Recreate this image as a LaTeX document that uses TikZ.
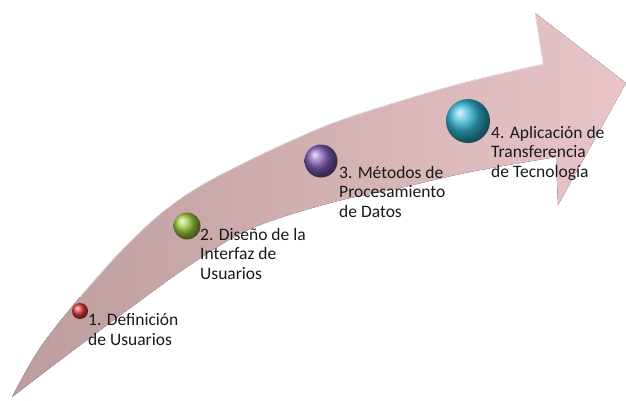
\documentclass[tikz,border=0pt]{standalone}
\usepackage{fontspec}
\setmainfont{Carlito}
\definecolor{tailc}{RGB}{188,156,156}
\definecolor{headc}{RGB}{233,197,201}
\definecolor{txt}{RGB}{25,25,25}
\definecolor{redb}{RGB}{225,55,55}
\definecolor{greenb}{RGB}{155,200,60}
\definecolor{purpleb}{RGB}{125,92,180}
\definecolor{tealb}{RGB}{50,180,210}
\begin{document}
\begin{tikzpicture}[x=1pt,y=-1pt,
  orb/.style={circle, inner sep=0pt, shading=ball},
  lbl/.style={anchor=base west, align=left, inner sep=0pt, text=txt,
    font=\fontsize{17.5}{19.5}\selectfont}]
\useasboundingbox (0,0) rectangle (626,400);
\fill[left color=tailc, right color=headc]
  plot[smooth, tension=0.55] coordinates {(12,397) (40,348) (80,297) (120,252) (160,214) (200,186) (260,155) (330,124) (400,101) (470,81) (543,64)}
  -- (535,13) -- (626,83) -- (558,205) -- (556,157)
  -- plot[smooth, tension=0.55] coordinates {(556,157) (470,172) (400,188) (330,203) (250,229) (190,265) (133,306) (67,355) (12,397)}
  -- cycle;
\draw[white, opacity=0.7, line width=0.8pt]
  plot[smooth, tension=0.55] coordinates {(80,297) (120,252) (160,214) (200,186) (260,155) (330,124) (400,101) (470,81) (543,64)} -- (535,13);
\node[orb, minimum size=16pt, ball color=redb] (b1) at (80,311) {};
\node[orb, minimum size=27pt, ball color=greenb] (b2) at (187,226) {};
\node[orb, minimum size=33pt, ball color=purpleb] (b3) at (321,161) {};
\node[orb, minimum size=44pt, ball color=tealb] (b4) at (468,121) {};
\node[lbl] (t1) at (88,345) {1. Definición\\de Usuarios};
\node[lbl] (t2) at (200,279) {2. Diseño de la\\Interfaz de\\Usuarios};
\node[lbl] (t3) at (339,217) {3. Métodos de\\Procesamiento\\de Datos};
\node[lbl] (t4) at (491,177) {4. Aplicación de\\Transferencia\\de Tecnología};
\end{tikzpicture}
\end{document}
